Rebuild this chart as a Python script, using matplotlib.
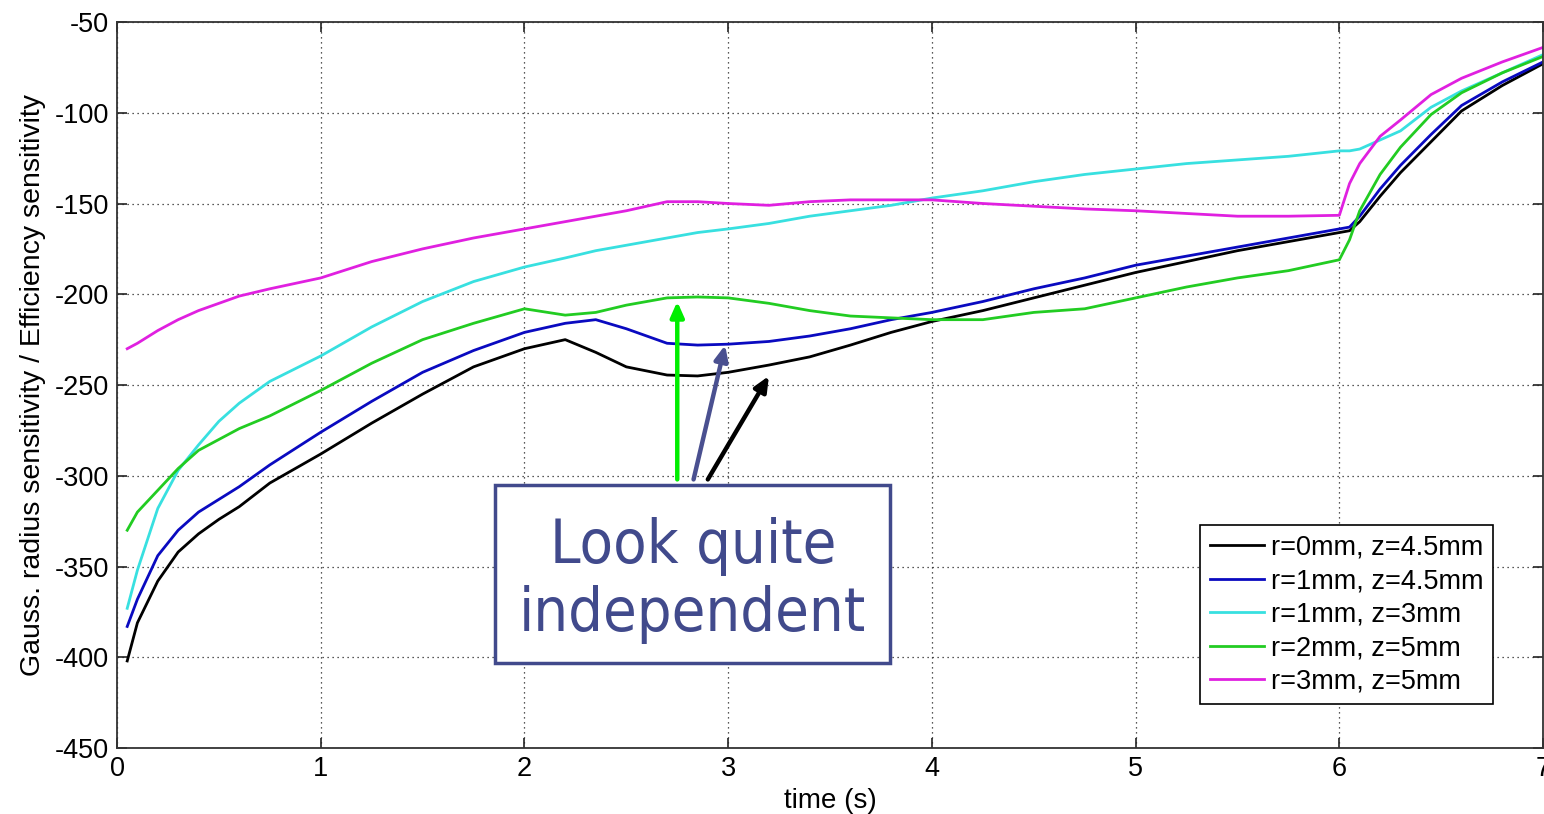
import matplotlib
matplotlib.use("Agg")
import matplotlib.pyplot as plt
from matplotlib.patches import Rectangle

# time axis shared by all curves (s)
time_s = [0.05, 0.1, 0.2, 0.3, 0.4, 0.5, 0.6, 0.75, 1.0, 1.25, 1.5, 1.75,
          2.0, 2.2, 2.35, 2.5, 2.7, 2.85, 3.0, 3.2, 3.4, 3.6, 3.8, 4.0,
          4.25, 4.5, 4.75, 5.0, 5.25, 5.5, 5.75, 6.0, 6.05, 6.1, 6.2, 6.3,
          6.45, 6.6, 6.8, 7.0]

r0_z45 = [-402, -381, -358, -342, -332, -324, -317, -304, -288, -271, -255, -240,
          -230, -225, -232, -240, -244.5, -245, -243, -239, -234.5, -228, -221, -215,
          -209, -202, -195, -188, -182, -176, -171, -166, -165, -160, -146, -133,
          -116, -99, -85, -73]

r1_z45 = [-383, -368, -344, -330, -320, -313, -306, -294, -276, -259, -243, -231,
          -221, -216, -214, -219, -227, -228, -227.5, -226, -223, -219, -214, -210,
          -204, -197, -191, -184, -179, -174, -169, -164, -163, -157, -142, -129,
          -112, -96, -83, -72]

r1_z3 = [-373, -352, -318, -297, -283, -270, -260, -248, -234, -218, -204, -193,
         -185, -180, -176, -173, -169, -166, -164, -161, -157, -154, -151, -147,
         -143, -138, -134, -131, -128, -126, -124, -121, -121, -120, -115, -110,
         -97, -88, -78, -68]

r2_z5 = [-330, -320, -308, -296, -286, -280, -274, -267, -253, -238, -225, -216,
         -208, -211.5, -210, -206, -202, -201.5, -202, -205, -209, -212, -213, -214,
         -214, -210, -208, -202, -196, -191, -187, -181, -170, -154, -134, -119,
         -101, -89, -78, -69]

r3_z5 = [-230, -227, -220, -214, -209, -205, -201, -197, -191, -182, -175, -169,
         -164, -160, -157, -154, -149, -149, -150, -151, -149, -148, -148, -148,
         -150, -151.5, -153, -154, -155.5, -157, -157, -156.5, -139, -128, -113, -104,
         -90, -81, -72, -64]

series = [r0_z45, r1_z45, r1_z3, r2_z5, r3_z5]
labels = ["r=0mm, z=4.5mm", "r=1mm, z=4.5mm", "r=1mm, z=3mm",
          "r=2mm, z=5mm", "r=3mm, z=5mm"]
colors = ["#000000", "#0a0ac0", "#38e0e0", "#22cc22", "#e020e0"]

# annotation arrows: (tail, tip, colour)
arrows = [((2.75, -302), (2.75, -204), "#00ee00"),
          ((2.83, -302), (2.985, -228), "#4a5090"),
          ((2.90, -302), (3.20, -245), "#000000")]
note_text = "Look quite\nindependent"
note_box = (1.856, -403, 1.94, 98)  # x, y, width, height

plt.rcParams['font.family'] = ['Liberation Sans', 'DejaVu Sans']
plt.rcParams['axes.unicode_minus'] = False

fig = plt.figure(figsize=(15.44, 8.14), dpi=100)
ax = fig.add_axes([0.0758, 0.081, 0.9236, 0.892])

for ys, lab, c in zip(series, labels, colors):
    ax.plot(time_s, ys, color=c, lw=2.0, label=lab)

ax.set_xlim(0, 7)
ax.set_ylim(-450, -50)
ax.set_xticks(range(0, 8))
ax.set_yticks(range(-450, -49, 50))
ax.grid(True, color="#222222", linestyle=(0, (1, 3)), lw=0.9)
ax.tick_params(direction="in", length=7, width=1.2, top=True, right=True,
               labelsize=19.5, pad=6, colors="#222222", labelcolor="black")
for s in ax.spines.values():
    s.set_color("#333333")
    s.set_linewidth(1.3)

ax.set_xlabel("time (s)", fontsize=20, labelpad=4)
ax.set_ylabel("Gauss. radius sensitivity / Efficiency sensitivity", fontsize=20.5, labelpad=6)

leg = ax.legend(loc="upper left", bbox_to_anchor=(0.7595, 0.307), fontsize=19.5,
                frameon=True, fancybox=False, edgecolor="black", framealpha=1,
                handlelength=2.0, handletextpad=0.25, labelspacing=0.28,
                borderpad=0.35, borderaxespad=0)
leg.get_frame().set_linewidth(1.2)

bx, by, bw, bh = note_box
ax.add_patch(Rectangle((bx, by), bw, bh, fill=True, facecolor="white",
                       edgecolor="#414a8c", lw=2.5, zorder=5))
ax.text(bx + bw / 2, by + bh / 2 - 3.5, note_text, ha="center", va="center",
        fontsize=44, color="#414a8c", family="DejaVu Sans", fontstretch="condensed",
        linespacing=1.2, zorder=6)

for tail, tip, c in arrows:
    ax.annotate("", xy=tip, xytext=tail, zorder=7,
                arrowprops=dict(arrowstyle="-|>,head_length=0.9,head_width=0.4",
                                color=c, lw=3.2, shrinkA=0, shrinkB=0))

fig.savefig("out.png", dpi=100)
